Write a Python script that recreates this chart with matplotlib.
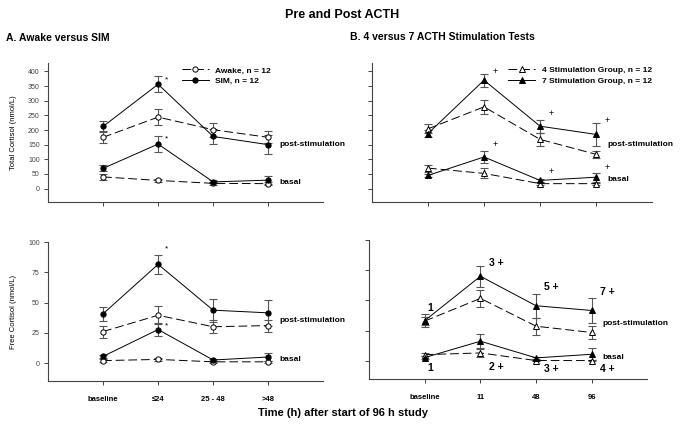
import matplotlib
matplotlib.use('Agg')
import matplotlib.pyplot as plt

plt.rcParams['font.family'] = ['Liberation Sans', 'DejaVu Sans']

# panel A: awake vs SIM
cats_a = ['baseline', '\u226424', '25 - 48', '>48']
awake_post = [175, 244, 201, 175]
awake_post_err = [20, 26, 24, 20]
sim_post = [212, 356, 178, 150]
sim_post_err = [19, 28, 25, 33]
awake_basal = [40, 28, 18, 17]
awake_basal_err = [10, 4, 4, 4]
sim_basal = [69, 152, 23, 29]
sim_basal_err = [10, 27, 5, 14]

awake_free_post = [26, 39.5, 30, 31]
awake_free_post_err = [5, 7.5, 5.5, 5]
sim_free_post = [40.7, 81.6, 43.7, 41.5]
sim_free_post_err = [6, 8, 9.5, 11]
awake_free_basal = [2, 3, 1, 1]
awake_free_basal_err = [1, 1, 0.8, 0.8]
sim_free_basal = [5.5, 27.7, 2.5, 5]
sim_free_basal_err = [1.2, 5, 1, 3]

# panel B: 4 vs 7 stimulation tests
cats_b = ['baseline', '11', '48', '96']
s4_post = [204, 279, 168, 117]
s4_post_err = [15, 25, 22, 13]
s7_post = [188, 370, 213, 185]
s7_post_err = [13, 22, 22, 38]
s4_basal = [70, 52, 17, 17]
s4_basal_err = [12, 17, 4, 3]
s7_basal = [45, 108, 28, 39]
s7_basal_err = [5, 22, 6, 15]

s4_free_post = [33, 51.7, 28.7, 23.5]
s4_free_post_err = [3, 7, 7, 5]
s7_free_post = [33.4, 70, 45.6, 41.7]
s7_free_post_err = [5, 8.5, 10, 10]
s4_free_basal = [5.2, 6.6, 0.3, 0.3]
s4_free_basal_err = [1, 3, 0.5, 0.5]
s7_free_basal = [2.8, 16.3, 2.5, 5.5]
s7_free_basal_err = [1, 6, 1, 5]

# significance markers (category index, y value, text)
stars_total = [(1, 372, '*'), (1, 170, '*')]
stars_free = [(1, 94, '*'), (1, 31, '*')]
plus_total = [(1, 398, '+'), (2, 256, '+'), (3, 232, '+'),
              (1, 150, '+'), (2, 58, '+'), (3, 72, '+')]
counts_above = [(0, 44, '1'), (1, 81, '3 +'), (2, 61, '5 +'), (3, 57, '7 +')]
counts_below = [(0, -6, '1'), (1, -5, '2 +'), (2, -7, '3 +'), (3, -7, '4 +')]

fig = plt.figure(figsize=(6.85, 4.24), dpi=100)
ax_a1 = fig.add_axes([0.070, 0.524, 0.402, 0.327])
ax_b1 = fig.add_axes([0.543, 0.524, 0.409, 0.327])
ax_a2 = fig.add_axes([0.070, 0.101, 0.402, 0.328])
ax_b2 = fig.add_axes([0.539, 0.106, 0.406, 0.328])

ecol = '#555555'


def series(ax, y, err, filled, marker, label=None):
    x = range(len(y))
    ax.errorbar(x, y, yerr=err, fmt='none', ecolor=ecol, elinewidth=0.8,
                capsize=3, capthick=0.8, zorder=2)
    ls = '-' if filled else (0, (9, 4))
    ax.plot(x, y, color='black', lw=0.7, ls=ls, marker=marker, ms=3.8,
            mfc='black' if filled else 'white', mec='black', mew=0.7,
            label=label, zorder=3)


def style(ax, cats, ylim, yticks, labels=True, xlabels=True):
    ax.set_xlim(-1, 4)
    ax.set_ylim(*ylim)
    ax.spines['top'].set_visible(False)
    ax.spines['right'].set_visible(False)
    for s in ['left', 'bottom']:
        ax.spines[s].set_linewidth(0.8)
        ax.spines[s].set_color('#444444')
    ax.set_xticks(range(4))
    ax.set_xticklabels(cats if xlabels else [], fontsize=5.5, fontweight='bold')
    ax.set_yticks(yticks)
    if labels:
        ax.set_yticklabels([str(t) for t in yticks], fontsize=5, color='#444444')
    else:
        ax.set_yticklabels([])
    ax.tick_params(length=3, width=0.7, color='#444444', pad=3)
    ax.tick_params(axis='x', pad=8)


# top left: total cortisol, awake vs SIM
series(ax_a1, awake_post, awake_post_err, False, 'o', 'Awake, n = 12')
series(ax_a1, sim_post, sim_post_err, True, 'o', 'SIM, n = 12')
series(ax_a1, awake_basal, awake_basal_err, False, 'o')
series(ax_a1, sim_basal, sim_basal_err, True, 'o')
style(ax_a1, cats_a, (-45, 428), range(0, 401, 50), xlabels=False)
ax_a1.set_ylabel('Total Cortisol (nmol/L)', fontsize=5.5, labelpad=8)
for i, y, t in stars_total:
    ax_a1.text(i + 0.13, y, t, fontsize=6, ha='left', va='center')

# top right: total cortisol, 4 vs 7
series(ax_b1, s4_post, s4_post_err, False, '^', '4 Stimulation Group, n = 12')
series(ax_b1, s7_post, s7_post_err, True, '^', '7 Stimulation Group, n = 12')
series(ax_b1, s4_basal, s4_basal_err, False, '^')
series(ax_b1, s7_basal, s7_basal_err, True, '^')
style(ax_b1, cats_b, (-45, 428), range(0, 401, 50), labels=False, xlabels=False)
for i, y, t in plus_total:
    ax_b1.text(i + 0.15, y, t, fontsize=6.5, ha='left', va='center')

# bottom left: free cortisol, awake vs SIM
series(ax_a2, awake_free_post, awake_free_post_err, False, 'o')
series(ax_a2, sim_free_post, sim_free_post_err, True, 'o')
series(ax_a2, awake_free_basal, awake_free_basal_err, False, 'o')
series(ax_a2, sim_free_basal, sim_free_basal_err, True, 'o')
style(ax_a2, cats_a, (-15, 100), range(0, 101, 25))
ax_a2.set_ylabel('Free Cortisol (nmol/L)', fontsize=5.5, labelpad=8)
for i, y, t in stars_free:
    ax_a2.text(i + 0.13, y, t, fontsize=6, ha='left', va='center')

# bottom right: free cortisol, 4 vs 7
series(ax_b2, s4_free_post, s4_free_post_err, False, '^')
series(ax_b2, s7_free_post, s7_free_post_err, True, '^')
series(ax_b2, s4_free_basal, s4_free_basal_err, False, '^')
series(ax_b2, s7_free_basal, s7_free_basal_err, True, '^')
style(ax_b2, cats_b, (-15, 100), range(0, 101, 25), labels=False)
for i, y, t in counts_above + counts_below:
    ax_b2.text(i + (0.15 if '+' in t else 0.05), y, t, fontsize=7.5,
               fontweight='bold', ha='left', va='center')

# curve labels
for ax, yp, yb in [(ax_a1, 152, 20), (ax_b1, 152, 30),
                   (ax_a2, 35, 3.3), (ax_b2, 31, 3)]:
    ax.text(3.2, yp, 'post-stimulation', fontsize=6, fontweight='bold',
            ha='left', va='center', clip_on=False)
    ax.text(3.2, yb, 'basal', fontsize=6, fontweight='bold',
            ha='left', va='center', clip_on=False)

leg_kw = dict(loc='upper left', frameon=False, handlelength=3.2,
              handletextpad=0.8, labelspacing=0.35,
              prop={'weight': 'bold', 'size': 6})
ax_a1.legend(bbox_to_anchor=(0.46, 1.03), **leg_kw)
ax_b1.legend(bbox_to_anchor=(0.46, 1.03), **leg_kw)

fig.text(0.5, 0.965, 'Pre and Post ACTH', fontsize=9, fontweight='bold', ha='center', va='center')
fig.text(0.009, 0.91, 'A. Awake versus SIM', fontsize=7.5, fontweight='bold', ha='left', va='center')
fig.text(0.511, 0.913, 'B. 4 versus 7 ACTH Stimulation Tests', fontsize=7.5,
         fontweight='bold', ha='left', va='center')
fig.text(0.5, 0.026, 'Time (h) after start of 96 h study', fontsize=8,
         fontweight='bold', ha='center', va='center')

fig.savefig('out.png', dpi=100)
